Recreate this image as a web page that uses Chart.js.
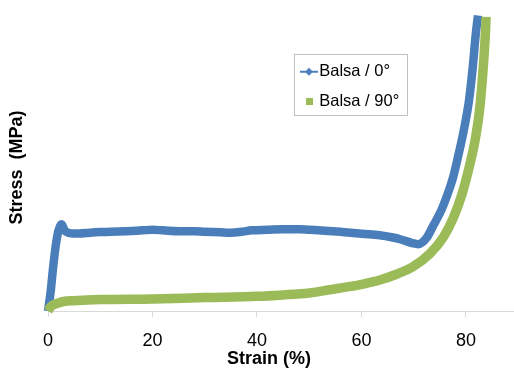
<!DOCTYPE html>
<html>
<head>
<meta charset="utf-8">
<script src="https://cdn.jsdelivr.net/npm/chart.js@4/dist/chart.umd.min.js"></script>
<style>
html,body{margin:0;padding:0;background:#fff;overflow:hidden}
#wrap{width:514px;height:371px;position:relative}
</style>
</head>
<body>
<div id="wrap"><canvas id="c" width="514" height="371"></canvas></div>
<script>
// ---- data ----
const seriesNames = ['Balsa / 0°', 'Balsa / 90°'];
const xTitle = 'Strain (%)';
const yTitle = 'Stress  (MPa)';
const xTickValues = [0, 20, 40, 60, 80];

const strain0 = [0, 0.5, 1.0, 1.5, 2.0, 2.6, 3.2, 4, 5, 6, 8, 10, 12, 15, 18, 20, 22, 25, 28, 30, 33, 35, 37, 39, 42, 45, 48, 50, 53, 56, 58, 60, 63.5, 66, 67.4, 69.9, 70.8, 72.5, 73.7, 75.35, 76.6, 77.6, 78.5, 79.5, 80.6, 81.3, 81.9, 82.3];
const stress0 = [0, 0.66, 1.55, 2.3, 2.8, 3.02, 2.80, 2.72, 2.70, 2.70, 2.73, 2.75, 2.76, 2.78, 2.81, 2.83, 2.81, 2.78, 2.78, 2.76, 2.74, 2.73, 2.76, 2.81, 2.83, 2.85, 2.85, 2.83, 2.80, 2.76, 2.73, 2.69, 2.64, 2.56, 2.50, 2.36, 2.33, 2.56, 2.96, 3.54, 4.13, 4.70, 5.39, 6.22, 7.36, 8.5, 9.69, 10.3];

const strain90 = [0, 0.5, 1, 2, 3, 5, 10, 20, 30, 40, 45, 50, 54, 57, 60.3, 63.5, 66.7, 69.9, 73.1, 75.7, 77.6, 79.2, 80.6, 81.8, 82.6, 83.1, 83.5, 83.75, 83.85];
const stress90 = [0, 0.14, 0.21, 0.28, 0.33, 0.36, 0.40, 0.42, 0.47, 0.51, 0.56, 0.63, 0.74, 0.83, 0.94, 1.08, 1.28, 1.55, 2.0, 2.58, 3.25, 4.05, 5.0, 6.0, 7.0, 8.0, 9.0, 9.8, 10.25];

const colors = ['#4a7ebb', '#9bbb59'];

// ---- helpers ----
const toPoints = (xs, ys) => xs.map((x, i) => ({x: x, y: ys[i]}));

function lineDiamondMark(color) {
  const c = document.createElement('canvas');
  c.width = 18; c.height = 10;
  const g = c.getContext('2d');
  g.strokeStyle = color; g.lineWidth = 2;
  g.beginPath(); g.moveTo(0, 5); g.lineTo(18, 5); g.stroke();
  g.fillStyle = color;
  g.beginPath(); g.moveTo(9, 1); g.lineTo(13, 5); g.lineTo(9, 9); g.lineTo(5, 5); g.closePath(); g.fill();
  return c;
}
function squareMark(color) {
  const c = document.createElement('canvas');
  c.width = 7; c.height = 7;
  const g = c.getContext('2d');
  g.fillStyle = color; g.fillRect(0, 0, 7, 7);
  return c;
}
const marks = [lineDiamondMark(colors[0]), squareMark(colors[1])];

Chart.defaults.font.family = '"Liberation Sans", Arial, sans-serif';
Chart.defaults.color = '#000';

const legendPlacer = {
  id: 'legendPlacer',
  afterLayout(chart) {
    const lg = chart.legend;
    if (!lg) return;
    lg.left = 293.5;
    lg.top = 50;
    lg.right = lg.left + 140;
    lg.bottom = lg.top + 80;
  },
  afterDraw(chart) {
    const ctx = chart.ctx;
    const lg = chart.legend;
    const area = chart.chartArea;
    ctx.save();
    ctx.strokeStyle = '#c0c0c0';
    ctx.lineWidth = 1;
    ctx.strokeRect(Math.round(lg.left) + 0.5, Math.round(lg.top + 4) + 0.5, 113, 61);
    const y = Math.round(area.bottom) + 0.5;
    ctx.strokeStyle = '#d9d9d9';
    ctx.beginPath(); ctx.moveTo(area.right, y); ctx.lineTo(chart.width, y); ctx.stroke();
    ctx.restore();
  }
};

new Chart(document.getElementById('c'), {
  type: 'scatter',
  data: {
    datasets: [
      {
        label: seriesNames[0],
        data: toPoints(strain0, stress0),
        showLine: true,
        borderColor: colors[0],
        backgroundColor: colors[0],
        borderWidth: 8.5,
        pointRadius: 0,
        cubicInterpolationMode: 'monotone',
        clip: false,
        order: 1
      },
      {
        label: seriesNames[1],
        data: toPoints(strain90, stress90),
        showLine: true,
        borderColor: colors[1],
        backgroundColor: colors[1],
        borderWidth: 9.5,
        pointRadius: 0,
        cubicInterpolationMode: 'monotone',
        clip: false,
        order: 0
      }
    ]
  },
  options: {
    responsive: false,
    animation: false,
    devicePixelRatio: 1,
    layout: {padding: {top: 24, right: 24, bottom: 0, left: 0}},
    plugins: {
      tooltip: {enabled: false},
      legend: {
        display: true,
        position: 'chartArea',
        align: 'start',
        labels: {
          usePointStyle: true,
          pointStyleWidth: 4,
          padding: 13.5,
          font: {size: 16.5, lineHeight: 1},
          color: '#000',
          generateLabels(chart) {
            return chart.data.datasets.map((ds, i) => ({
              text: ds.label,
              pointStyle: marks[i],
              fillStyle: colors[i],
              strokeStyle: colors[i],
              lineWidth: 0,
              hidden: false,
              datasetIndex: i,
              fontColor: '#000'
            }));
          }
        }
      }
    },
    scales: {
      x: {
        type: 'linear',
        min: 0,
        max: 84.6,
        afterBuildTicks(scale) { scale.ticks = xTickValues.map(v => ({value: v})); },
        afterFit(scale) { scale.height = 60; },
        grid: {drawOnChartArea: false, drawTicks: true, tickLength: 6, color: '#d9d9d9'},
        border: {display: true, color: '#d9d9d9'},
        ticks: {padding: 13, font: {size: 18}, color: '#000', maxRotation: 0},
        title: {display: true, text: xTitle, font: {size: 18, weight: 'bold'}, color: '#000', padding: {top: 0, bottom: 1}}
      },
      y: {
        type: 'linear',
        min: 0,
        max: 10,
        afterFit(scale) { scale.width = 48; },
        grid: {display: false},
        border: {display: false},
        ticks: {display: false},
        title: {display: true, text: yTitle, font: {size: 18, weight: 'bold'}, color: '#000', padding: {top: 6, bottom: 0}}
      }
    }
  },
  plugins: [legendPlacer]
});
</script>
</body>
</html>
